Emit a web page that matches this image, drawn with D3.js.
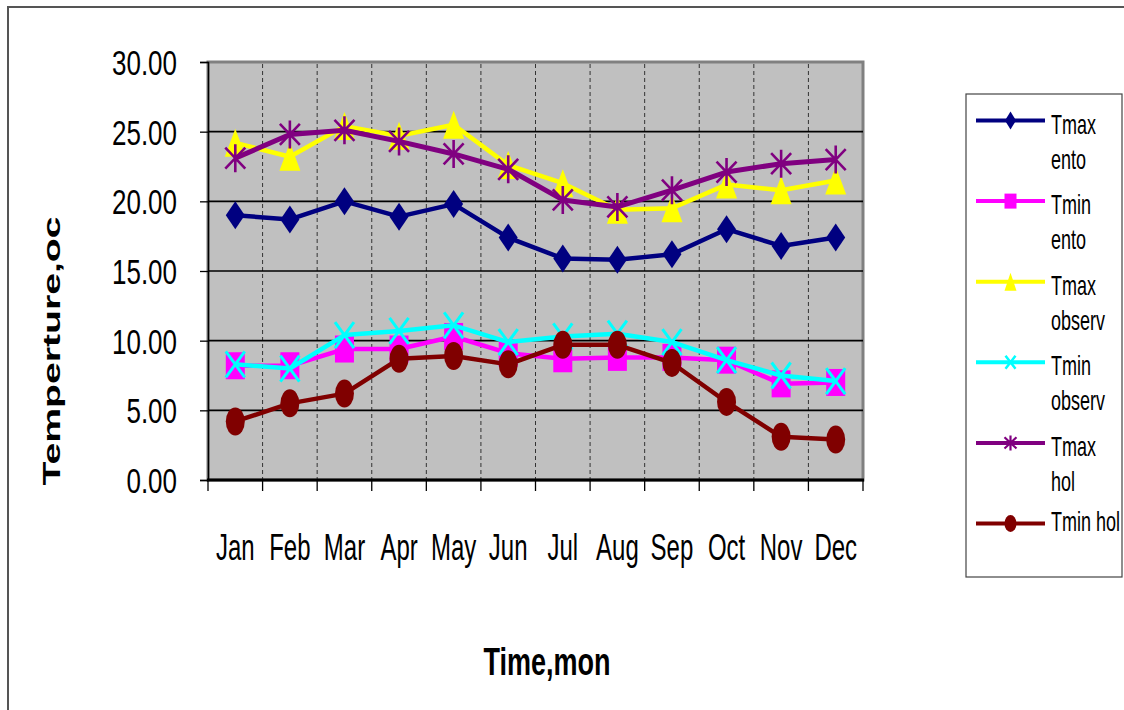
<!DOCTYPE html>
<html>
<head>
<meta charset="utf-8">
<script src="https://cdn.jsdelivr.net/npm/d3@7"></script>
<style>
  body { margin: 0; background: #fff; }
  text { font-family: "Liberation Sans", Arial, sans-serif; }
</style>
</head>
<body>
<script>
// DATA
const months = ["Jan","Feb","Mar","Apr","May","Jun","Jul","Aug","Sep","Oct","Nov","Dec"];
const yTicks = [0, 5, 10, 15, 20, 25, 30];
const tmaxEnto   = [19.0, 18.7, 20.0, 18.9, 19.8, 17.4, 15.9, 15.8, 16.2, 18.0, 16.8, 17.4];
const tminEnto   = [8.2, 8.2, 9.4, 9.4, 10.3, 9.1, 8.7, 8.8, 8.8, 8.6, 6.9, 7.0];
const tmaxObserv = [24.2, 23.2, 25.4, 24.7, 25.5, 22.6, 21.3, 19.4, 19.5, 21.2, 20.8, 21.5];
const tminObserv = [8.3, 8.0, 10.4, 10.7, 11.1, 9.9, 10.3, 10.5, 9.9, 8.6, 7.5, 7.1];
const tmaxHol    = [23.1, 24.8, 25.1, 24.3, 23.4, 22.3, 20.1, 19.6, 20.8, 22.1, 22.7, 23.0];
const tminHol    = [4.2, 5.5, 6.2, 8.7, 8.9, 8.3, 9.7, 9.7, 8.4, 5.6, 3.1, 2.9];
const seriesNames = [["Tmax","ento"],["Tmin","ento"],["Tmax","observ"],["Tmin","observ"],["Tmax","hol"],["Tmin hol"]];

// SERIES STYLE
const series = [
  {values: tmaxEnto,   color: "#000080", marker: "diamond",  sw: 4.5},
  {values: tminEnto,   color: "#FF00FF", marker: "square",   sw: 4.5},
  {values: tmaxObserv, color: "#FFFF00", marker: "triangle", sw: 4.5},
  {values: tminObserv, color: "#00FFFF", marker: "x",        sw: 4.5},
  {values: tmaxHol,    color: "#800080", marker: "star",     sw: 5},
  {values: tminHol,    color: "#800000", marker: "circle",   sw: 4.5}
];
series.forEach((s, i) => s.name = seriesNames[i]);

// sizes of the markers in plot and legend
const plotSize = {diamond:[19,28], square:[19,27], triangle:[21,28], x:[19,26], star:[20,28], circle:[19,28]};
const legSize  = {diamond:[11,18], square:[12,15], triangle:[12,18], x:[10,13], star:[12,15], circle:[12,17]};

const W = 1124, H = 710;
const plot = {left: 208, right: 863, top: 62, bottom: 480};

var svg = d3.select("body").append("svg")
  .attr("width", W)
  .attr("height", H);

// OUTER FRAME
svg.append("rect")
  .attr("x", 8).attr("y", 7)
  .attr("width", 1140).attr("height", 730)
  .attr("fill", "#fff")
  .attr("stroke", "#555")
  .attr("stroke-width", 2);

// SCALES
var x = d3.scaleBand()
  .domain(months)
  .range([plot.left, plot.right]);
var y = d3.scaleLinear()
  .domain([0, 30])
  .range([plot.bottom, plot.top]);

// PLOT AREA
svg.append("rect")
  .attr("x", plot.left).attr("y", plot.top)
  .attr("width", plot.right - plot.left)
  .attr("height", plot.bottom - plot.top)
  .attr("fill", "#C0C0C0")
  .attr("stroke", "#808080")
  .attr("stroke-width", 3);

// vertical dashed gridlines at category borders
svg.append("g")
  .selectAll("line")
  .data(months.slice(1))
  .join("line")
  .attr("x1", d => x(d)).attr("x2", d => x(d))
  .attr("y1", plot.top + 2).attr("y2", plot.bottom)
  .attr("stroke", "#333")
  .attr("stroke-width", 1)
  .attr("stroke-dasharray", "4,3");

// horizontal gridlines
svg.append("g")
  .selectAll("line")
  .data(yTicks.slice(1, -1))
  .join("line")
  .attr("x1", plot.left).attr("x2", plot.right)
  .attr("y1", d => y(d)).attr("y2", d => y(d))
  .attr("stroke", "#000")
  .attr("stroke-width", 1.6);

// Y AXIS
const yLabSize = 26, yLabSy = 1.35;
var yAxis = svg.append("g")
  .attr("transform", `translate(${plot.left},0)`)
  .call(d3.axisLeft(y).tickValues(yTicks).tickSize(8).tickFormat(d3.format(".2f")));
yAxis.select(".domain").attr("stroke", "#000").attr("stroke-width", 1.5);
yAxis.selectAll(".tick line").attr("stroke", "#000").attr("stroke-width", 1.3);
yAxis.selectAll(".tick text")
  .attr("x", -31)
  .attr("dy", null)
  .attr("y", yLabSize * 0.716 / 2)
  .attr("transform", `scale(1,${yLabSy})`)
  .style("font-size", yLabSize + "px")
  .attr("fill", "#000");

// X AXIS
const mSize = 24, mSy = 1.57;
var xAxis = svg.append("g")
  .attr("transform", `translate(0,${plot.bottom})`)
  .call(d3.axisBottom(x).tickSize(0));
xAxis.select(".domain").remove();
xAxis.append("line")
  .attr("x1", plot.left - 1).attr("x2", plot.right + 1)
  .attr("y1", 0).attr("y2", 0)
  .attr("stroke", "#000").attr("stroke-width", 3);
xAxis.selectAll(".tick text")
  .attr("y", 0)
  .attr("dy", null)
  .attr("transform", `translate(0,80) scale(1,${mSy})`)
  .style("font-size", mSize + "px")
  .attr("fill", "#000");
// tick marks at category borders
xAxis.append("g")
  .selectAll("line")
  .data(d3.range(months.length + 1))
  .join("line")
  .attr("x1", i => plot.left + i * x.step())
  .attr("x2", i => plot.left + i * x.step())
  .attr("y1", 0).attr("y2", 11)
  .attr("stroke", "#000")
  .attr("stroke-width", 1.3);

// AXIS TITLES
svg.append("text")
  .attr("transform", "translate(547,675) scale(1,1.43)")
  .attr("text-anchor", "middle")
  .style("font-size", "27px")
  .style("font-weight", "bold")
  .text("Time,mon");

svg.append("text")
  .attr("transform", "translate(60,351) rotate(-90)")
  .attr("text-anchor", "middle")
  .attr("textLength", 269)
  .attr("lengthAdjust", "spacingAndGlyphs")
  .style("font-size", "23.5px")
  .style("font-weight", "bold")
  .text("Temperture,oc");

// MARKERS
function drawMarker(g, type, cx, cy, w, h, color) {
  const hw = w / 2, hh = h / 2;
  if (type == "circle") {
    g.append("ellipse").attr("cx", cx).attr("cy", cy).attr("rx", hw).attr("ry", hh).attr("fill", color);
  } else if (type == "diamond") {
    g.append("path").attr("d", `M${cx},${cy-hh}L${cx+hw},${cy}L${cx},${cy+hh}L${cx-hw},${cy}Z`).attr("fill", color);
  } else if (type == "square") {
    g.append("rect").attr("x", cx - hw).attr("y", cy - hh).attr("width", w).attr("height", h).attr("fill", color);
  } else if (type == "triangle") {
    g.append("path").attr("d", `M${cx},${cy-hh}L${cx+hw},${cy+hh}L${cx-hw},${cy+hh}Z`).attr("fill", color);
  } else if (type == "x") {
    g.append("path").attr("d", `M${cx-hw},${cy-hh}L${cx+hw},${cy+hh}M${cx+hw},${cy-hh}L${cx-hw},${cy+hh}`)
      .attr("stroke", color).attr("stroke-width", w > 15 ? 3 : 2.5).attr("fill", "none");
  } else if (type == "star") {
    g.append("path").attr("d", `M${cx-hw},${cy-hh*0.75}L${cx+hw},${cy+hh*0.75}M${cx+hw},${cy-hh*0.75}L${cx-hw},${cy+hh*0.75}M${cx},${cy-hh}L${cx},${cy+hh}`)
      .attr("stroke", color).attr("stroke-width", w > 15 ? 2.6 : 2.2).attr("fill", "none");
  }
}

// LINES + MARKERS
var line = d3.line()
  .x((d, i) => x(months[i]) + x.bandwidth() / 2)
  .y(d => y(d));

series.forEach(s => {
  var g = svg.append("g");
  g.append("path")
    .datum(s.values)
    .attr("fill", "none")
    .attr("stroke", s.color)
    .attr("stroke-width", s.sw)
    .attr("stroke-linejoin", "round")
    .attr("d", line);
  s.values.forEach((v, i) => {
    drawMarker(g, s.marker, x(months[i]) + x.bandwidth() / 2, y(v), plotSize[s.marker][0], plotSize[s.marker][1], s.color);
  });
});

// LEGEND
svg.append("rect")
  .attr("x", 966).attr("y", 94)
  .attr("width", 156).attr("height", 483)
  .attr("fill", "#fff")
  .attr("stroke", "#444")
  .attr("stroke-width", 1.2);

const legSy = 1.55, legFont = 18;
series.forEach((s, i) => {
  const ly = 120.5 + i * 80.6;
  var g = svg.append("g");
  g.append("line")
    .attr("x1", 976).attr("x2", 1045)
    .attr("y1", ly).attr("y2", ly)
    .attr("stroke", s.color)
    .attr("stroke-width", 4);
  drawMarker(g, s.marker, 1010.5, ly, legSize[s.marker][0], legSize[s.marker][1], s.color);
  const offs = s.name.length == 1 ? [7] : [13, 48];
  s.name.forEach((t, k) => {
    g.append("text")
      .attr("transform", `translate(1051,${ly + offs[k]}) scale(1,${legSy})`)
      .style("font-size", legFont + "px")
      .text(t);
  });
});
</script>
</body>
</html>
